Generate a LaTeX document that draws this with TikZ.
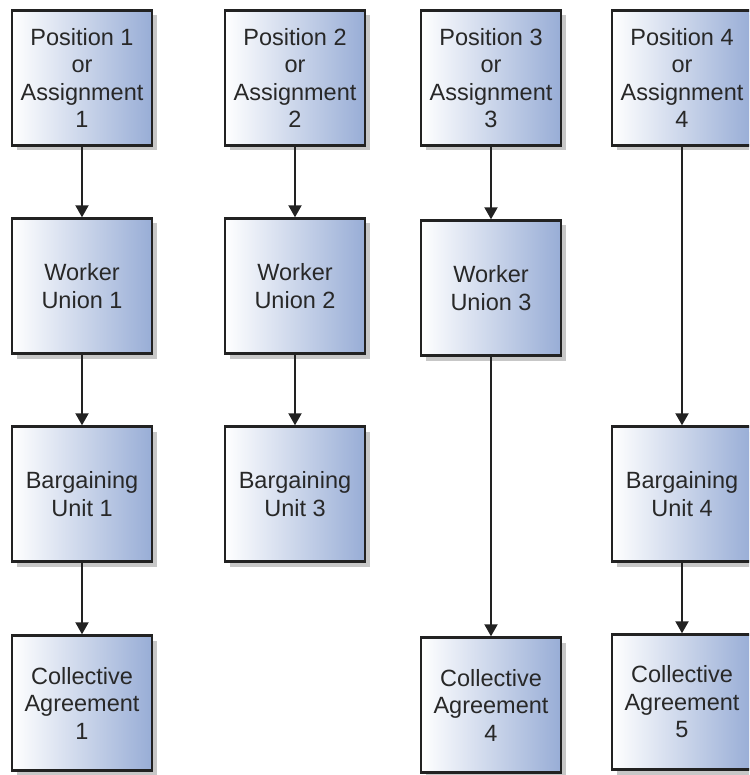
\documentclass[tikz,border=0pt]{standalone}
\usepackage{fontspec}
\setmainfont{Liberation Sans}
\usetikzlibrary{arrows.meta,shadows}

\definecolor{boxblue}{RGB}{152,173,214}
\definecolor{edgegray}{RGB}{34,34,34}
\definecolor{textgray}{RGB}{40,40,40}

\tikzset{
  unitbox/.style={draw=edgegray, line width=2.4pt, rectangle, inner sep=0pt,
    minimum width=140pt, minimum height=135pt, align=center,
    left color=white, right color=boxblue, text=textgray,
    font=\fontsize{23.5}{27.5}\selectfont,
    drop shadow={shadow xshift=5pt, shadow yshift=-5pt, fill=black!22, opacity=1}},
  link/.style={draw=edgegray, line width=2pt, -{Triangle[width=13pt,length=12pt]}}
}

\begin{document}
\begin{tikzpicture}[x=1pt,y=-1pt]
   \useasboundingbox (0,0) rectangle (749,775);
   \clip (0,0) rectangle (749,775);

   \foreach \i/\x in {1/82,2/295,3/491,4/682}
   {
      \node[unitbox] (P\i) at (\x,78) {Position \i\\or\\Assignment\\\i};
   }

   \node[unitbox] (W1) at (82,286) {Worker\\Union 1};
   \node[unitbox] (W2) at (295,286) {Worker\\Union 2};
   \node[unitbox] (W3) at (491,288) {Worker\\Union 3};

   \node[unitbox] (B1) at (82,494) {Bargaining\\Unit 1};
   \node[unitbox] (B3) at (295,494) {Bargaining\\Unit 3};
   \node[unitbox] (B4) at (682,494) {Bargaining\\Unit 4};

   \node[unitbox] (C1) at (82,703) {Collective\\Agreement\\1};
   \node[unitbox] (C4) at (491,705) {Collective\\Agreement\\4};
   \node[unitbox] (C5) at (682,702) {Collective\\Agreement\\5};

   \foreach \a/\b in {P1/W1,P2/W2,P3/W3,P4/B4,W1/B1,W2/B3,W3/C4,B1/C1,B4/C5}
   {
      \draw[link] (\a) -- (\b);
   }
\end{tikzpicture}
\end{document}
